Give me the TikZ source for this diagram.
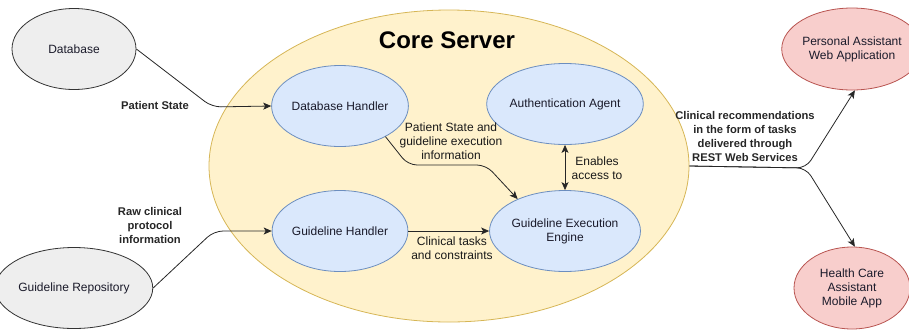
\documentclass[tikz,border=0pt]{standalone}
\usepackage{fontspec}
\setmainfont{Liberation Sans}
\usetikzlibrary{shapes.geometric,arrows.meta}
\definecolor{grayfill}{HTML}{EEEEEE}
\definecolor{graydraw}{HTML}{333333}
\definecolor{corefill}{HTML}{FFF2CC}
\definecolor{coredraw}{HTML}{D6B656}
\definecolor{bluefill}{HTML}{DAE8FC}
\definecolor{bluedraw}{HTML}{6C8EBF}
\definecolor{redfill}{HTML}{F8CECC}
\definecolor{reddraw}{HTML}{B85450}
\definecolor{txt}{HTML}{1A1A2A}
\tikzset{
  ell/.style={ellipse, inner sep=0pt, align=center, font=\fontsize{12}{14}\selectfont, text=txt, line width=0.8pt},
  grayell/.style={ell, fill=grayfill, draw=graydraw, minimum width=124pt, minimum height=81pt},
  blueell/.style={ell, fill=bluefill, draw=bluedraw, minimum width=122pt, minimum height=81pt},
  redell/.style={ell, fill=redfill, draw=reddraw, minimum width=116pt, minimum height=82pt},
  conn/.style={draw=black!85, line width=0.8pt, rounded corners=9pt, -{Stealth[length=8pt,width=7pt,inset=2pt]}},
  biconn/.style={draw=black!85, line width=0.8pt, {Stealth[length=8pt,width=7pt,inset=2pt]}-{Stealth[length=8pt,width=7pt,inset=2pt]}},
  outlbl/.style={align=center, font=\bfseries\fontsize{11.2}{14}\selectfont, text=black!85, inner sep=1pt},
  inlbl/.style={align=center, font=\fontsize{12}{14}\selectfont, text=black!90, inner sep=1pt},
}
\begin{document}
\begin{tikzpicture}[x=1pt,y=-1pt]
\useasboundingbox (0,0) rectangle (909,330);
% core server
\node[ellipse, fill=corefill, draw=coredraw, line width=0.8pt, minimum width=480pt, minimum height=312pt, inner sep=0pt] (core) at (449,166) {};
\node[font=\bfseries\fontsize{24}{28}\selectfont, text=black] (title) at (447,40) {Core Server};
% outer nodes
\node[grayell] (db) at (74,49) {Database};
\node[grayell] (repo) at (74,288) {Guideline Repository};
\node[redell] (pa) at (852,49) {Personal Assistant\\Web Application};
\node[redell] (hc) at (852,288) {Health Care\\Assistant\\Mobile App};
% inner nodes
\node[blueell] (dbh) at (340,106) {Database Handler};
\node[blueell] (gh) at (340,231) {Guideline Handler};
\node[blueell, minimum width=124pt] (auth) at (565,104) {Authentication Agent};
\node[blueell, minimum width=124pt] (gee) at (565,231) {Guideline Execution\\Engine};
% corner coordinates
\coordinate (c1) at (212,107);
\coordinate (c2) at (214,231);
\coordinate (c3) at (408,165);
\coordinate (c4) at (486,165);
\coordinate (c5) at (806,168);
\coordinate (c6) at (806,168);
% connectors
\draw[conn] (db.east) -- (c1) -- (dbh.west);
\draw[conn] (repo.east) -- (c2) -- (gh.west);
\draw[conn] (dbh.-34) -- (c3) -- (c4) -- (gee.146);
\draw[conn] (gh.east) -- (gee.west);
\draw[biconn] (auth.south) -- (gee.north);
\draw[conn] (core.east) -- (c5) -- (pa.-86);
\draw[conn] (core.east) -- (c6) -- (hc.86);
% labels
\node[outlbl] (l1) at (155,105) {Patient State};
\node[outlbl] (l2) at (150,225) {Raw clinical\\protocol\\information};
\node[inlbl] (l3) at (451,141) {Patient State and\\guideline execution\\information};
\node[inlbl] (l4) at (452,248) {Clinical tasks\\and constraints};
\node[inlbl] (l5) at (597,168) {Enables\\access to};
\node[outlbl] (l6) at (745,136) {Clinical recommendations\\in the form of tasks\\delivered through\\REST Web Services};
\end{tikzpicture}
\end{document}
